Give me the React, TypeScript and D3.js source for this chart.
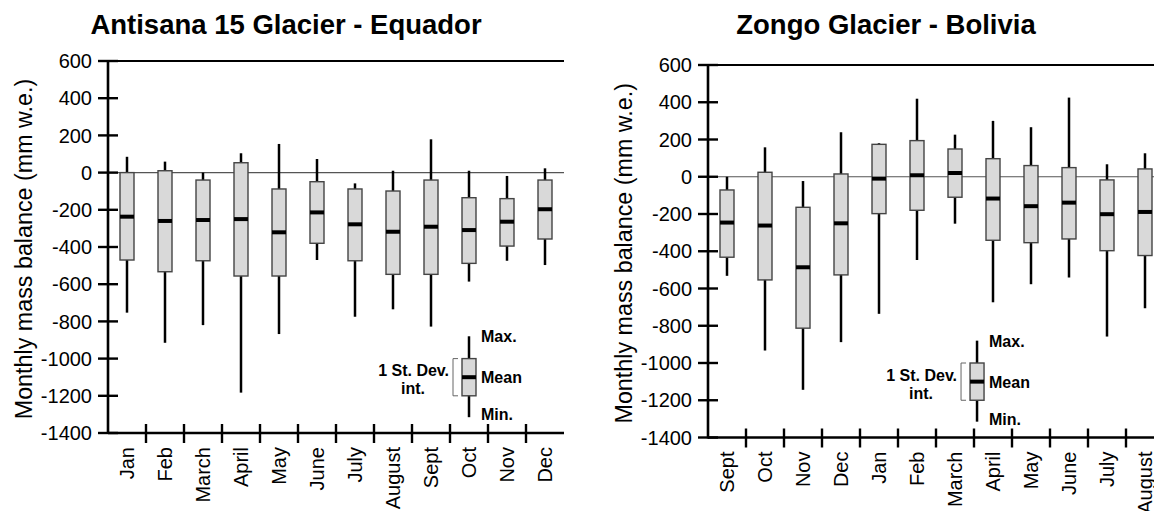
import React from "react";
import * as d3 from "d3";

// ---------- data ----------
const yTicks = [600, 400, 200, 0, -200, -400, -600, -800, -1000, -1200, -1400];

const antisanaMonths = ["Jan", "Feb", "March", "April", "May", "June", "July", "August", "Sept", "Oct", "Nov", "Dec"];
const antisanaMax = [85, 59, 0, 104, 154, 73, -58, 10, 179, 10, -18, 23];
const antisanaSdHigh = [0, 10, -40, 53, -88, -49, -88, -99, -40, -135, -140, -40];
const antisanaMean = [-237, -260, -255, -250, -321, -214, -278, -318, -291, -309, -264, -197];
const antisanaSdLow = [-470, -533, -474, -556, -556, -380, -474, -547, -547, -488, -395, -357];
const antisanaMin = [-753, -915, -820, -1183, -868, -470, -775, -735, -828, -586, -474, -497];

const zongoMonths = ["Sept", "Oct", "Nov", "Dec", "Jan", "Feb", "March", "April", "May", "June", "July", "August"];
const zongoMax = [0, 158, -23, 239, 180, 419, 226, 300, 266, 425, 67, 126];
const zongoSdHigh = [-71, 24, -164, 15, 174, 194, 149, 97, 60, 49, -17, 42];
const zongoMean = [-246, -262, -486, -250, -10, 8, 20, -117, -158, -139, -201, -189];
const zongoSdLow = [-432, -554, -813, -527, -198, -180, -110, -341, -354, -334, -397, -423];
const zongoMin = [-532, -933, -1144, -888, -736, -447, -252, -674, -577, -541, -858, -706];

// legend example box values
const legendValues = { max: -880, high: -1000, mean: -1100, low: -1200, min: -1315 };

const titles = ["Antisana 15 Glacier - Equador", "Zongo Glacier - Bolivia"];
const yLabel = "Monthly mass balance (mm w.e.)";

// ---------- layout ----------
const W = 1154;
const H = 511;
const FONT = "'Liberation Sans', Arial, Helvetica, sans-serif";

type Panel = {
  title: string;
  months: string[];
  max: number[];
  hi: number[];
  mean: number[];
  lo: number[];
  min: number[];
  left: number;
  top: number;
  bottom: number;
  legendIndex: number;
};

const panels: Panel[] = [
  {
    title: titles[0], months: antisanaMonths, max: antisanaMax, hi: antisanaSdHigh,
    mean: antisanaMean, lo: antisanaSdLow, min: antisanaMin,
    left: 108, top: 61, bottom: 433, legendIndex: 9.5,
  },
  {
    title: titles[1], months: zongoMonths, max: zongoMax, hi: zongoSdHigh,
    mean: zongoMean, lo: zongoSdLow, min: zongoMin,
    left: 708, top: 65, bottom: 437.5, legendIndex: 7.08,
  },
];

const plotWidth = 456;
const boxW = 14;

function PanelView({ p }: { p: Panel }) {
  const y = d3.scaleLinear().domain([-1400, 600]).range([p.bottom, p.top]);
  const x = d3.scaleBand<string>().domain(p.months.map((m, i) => i + "")).range([p.left, p.left + plotWidth]).padding(0);
  const step = x.step();
  const cx = (i: number) => (x(i + "") as number) + x.bandwidth() / 2;
  const right = p.left + plotWidth;
  const lx = p.left + p.legendIndex * step;
  const L = legendValues;

  return (
    <g>
      {/* title */}
      <text x={p.left + 178} y={34} textAnchor="middle" fontFamily={FONT} fontWeight="bold" fontSize={27.5} fill="#000">
        {p.title}
      </text>
      {/* y label */}
      <text
        transform={`translate(${p.left - 76},${(p.top + p.bottom) / 2 + 2}) rotate(-90)`}
        textAnchor="middle" fontFamily={FONT} fontSize={23.3} fill="#000"
      >
        {yLabel}
      </text>
      {/* zero line */}
      <line x1={p.left} x2={right} y1={y(0)} y2={y(0)} stroke="#555" strokeWidth={1.2} />
      {/* top line */}
      <line x1={p.left} x2={right} y1={p.top} y2={p.top} stroke="#000" strokeWidth={2} />
      {/* y axis */}
      <line x1={p.left} x2={p.left} y1={p.top - 1} y2={p.bottom + 1} stroke="#000" strokeWidth={2.6} />
      {yTicks.map((t) => (
        <g key={t}>
          <line x1={p.left - 10} x2={p.left + 10} y1={y(t)} y2={y(t)} stroke="#000" strokeWidth={2.4} />
          <text x={p.left - 16} y={y(t)} dy="0.36em" textAnchor="end" fontFamily={FONT} fontSize={20} fill="#000">
            {t}
          </text>
        </g>
      ))}
      {/* x axis */}
      <line x1={p.left} x2={right} y1={p.bottom} y2={p.bottom} stroke="#000" strokeWidth={2.6} />
      {p.months.map((m, i) =>
        i > 0 ? (
          <line key={"t" + i} x1={x(i + "") as number} x2={x(i + "") as number} y1={p.bottom - 9} y2={p.bottom + 10} stroke="#000" strokeWidth={2.4} />
        ) : null
      )}
      {p.months.map((m, i) => (
        <text
          key={"l" + i}
          transform={`translate(${cx(i)},${p.bottom + 14}) rotate(-90)`}
          dy="0.36em" textAnchor="end" fontFamily={FONT} fontSize={20} fill="#000"
        >
          {m}
        </text>
      ))}
      {/* boxes */}
      {p.months.map((m, i) => {
        const c = cx(i);
        return (
          <g key={"b" + i}>
            <line x1={c} x2={c} y1={y(p.max[i])} y2={y(p.min[i])} stroke="#000" strokeWidth={2.5} />
            <rect x={c - boxW / 2} y={y(p.hi[i])} width={boxW} height={y(p.lo[i]) - y(p.hi[i])} fill="#d9d9d9" stroke="#444" strokeWidth={1.4} />
            <line x1={c - boxW / 2} x2={c + boxW / 2} y1={y(p.mean[i])} y2={y(p.mean[i])} stroke="#000" strokeWidth={4} />
          </g>
        );
      })}
      {/* legend */}
      <g>
        <line x1={lx} x2={lx} y1={y(L.max)} y2={y(L.min)} stroke="#000" strokeWidth={2.5} />
        <rect x={lx - boxW / 2} y={y(L.high)} width={boxW} height={y(L.low) - y(L.high)} fill="#d9d9d9" stroke="#444" strokeWidth={1.4} />
        <line x1={lx - boxW / 2} x2={lx + boxW / 2} y1={y(L.mean)} y2={y(L.mean)} stroke="#000" strokeWidth={4} />
        <path
          d={`M${lx - 11},${y(L.high)} H${lx - 16} V${y(L.low)} H${lx - 11}`}
          fill="none" stroke="#666" strokeWidth={1}
        />
        <text x={lx + 12} y={y(L.max) + 6} fontFamily={FONT} fontWeight="bold" fontSize={16}>Max.</text>
        <text x={lx + 12} y={y(L.mean) + 6} fontFamily={FONT} fontWeight="bold" fontSize={16}>Mean</text>
        <text x={lx + 12} y={y(L.min) + 3} fontFamily={FONT} fontWeight="bold" fontSize={16}>Min.</text>
        <text x={lx - 20} y={y(L.mean) - 1} textAnchor="end" fontFamily={FONT} fontWeight="bold" fontSize={16}>1 St. Dev.</text>
        <text x={lx - 56} y={y(L.mean) + 17} textAnchor="middle" fontFamily={FONT} fontWeight="bold" fontSize={16}>int.</text>
      </g>
    </g>
  );
}

export default function App() {
  return (
    <svg width={W} height={H} viewBox={`0 0 ${W} ${H}`} style={{ position: "absolute", left: 0, top: 0, background: "#fff" }}>
      <rect width={W} height={H} fill="#fff" />
      {panels.map((p, i) => (
        <PanelView key={i} p={p} />
      ))}
    </svg>
  );
}
